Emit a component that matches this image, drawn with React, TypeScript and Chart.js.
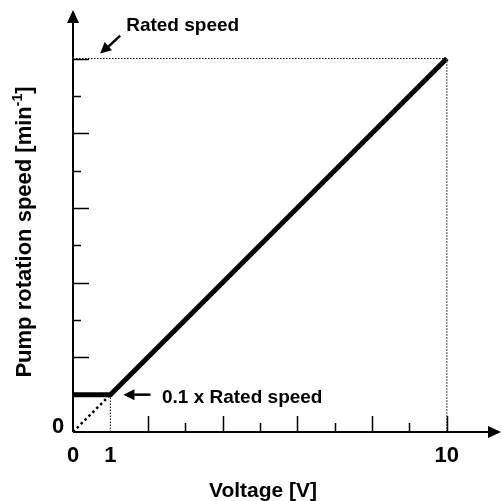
import React, { useEffect, useRef } from "react";
import { Chart, registerables } from "chart.js";

Chart.register(...registerables);

// Characteristic: voltage [V] vs relative pump speed (1.0 = rated speed)
const voltage = [0, 1, 10];
const speedRatio = [0.1, 0.1, 1.0];
// Dotted guide lines
const extrapolX = [0, 1];
const extrapolY = [0, 0.1];
const minGuideX = [1, 1];
const minGuideY = [0, 0.1];
const ratedGuideX = [0, 10];
const ratedGuideY = [1, 1];
const maxGuideX = [10, 10];
const maxGuideY = [0, 1];
// Axis ticks
const xTickValues = [2, 3, 4, 5, 6, 7, 8, 9, 10];
const yTickValues = [0.1, 0.2, 0.3, 0.4, 0.5, 0.6, 0.7, 0.8, 0.9, 1.0];
const xTickLabels = ["0", "1", "10"];
const xTickLabelValues = [0, 1, 10];
const yZeroLabel = "0";
const xTitle = "Voltage [V]";
const yTitleMain = "Pump rotation speed [min";
const yTitleSup = "-1";
const yTitleEnd = "]";
const ratedLabel = "Rated speed";
const minLabel = "0.1 x Rated speed";

const FONT = '"Liberation Sans", Arial, Helvetica, sans-serif';

function pts(xs: number[], ys: number[]) {
  return xs.map((x, i) => ({ x, y: ys[i] }));
}

function arrowHead(ctx: CanvasRenderingContext2D, tx: number, ty: number, fx: number, fy: number, len: number, half: number) {
  const ang = Math.atan2(ty - fy, tx - fx);
  const bx = tx - Math.cos(ang) * len;
  const by = ty - Math.sin(ang) * len;
  const nx = -Math.sin(ang) * half;
  const ny = Math.cos(ang) * half;
  ctx.beginPath();
  ctx.moveTo(tx, ty);
  ctx.lineTo(bx + nx, by + ny);
  ctx.lineTo(bx - nx, by - ny);
  ctx.closePath();
  ctx.fill();
}

const decorPlugin = {
  id: "decor",
  afterDatasetsDraw(chart: any) {
    const ctx: CanvasRenderingContext2D = chart.ctx;
    const xs = chart.scales.x;
    const ys = chart.scales.y;
    const x0 = xs.getPixelForValue(0);
    const y0 = ys.getPixelForValue(0);
    const W = chart.width;
    ctx.save();
    ctx.fillStyle = "#000";
    ctx.strokeStyle = "#000";
    // axes
    ctx.lineWidth = 2;
    ctx.beginPath();
    ctx.moveTo(x0, y0);
    ctx.lineTo(W - 12, y0);
    ctx.moveTo(x0, y0);
    ctx.lineTo(x0, 22);
    ctx.stroke();
    arrowHead(ctx, W - 1, y0, x0, y0, 13, 6);
    arrowHead(ctx, x0, 10, x0, y0, 13, 6);
    // ticks
    ctx.lineWidth = 1.5;
    ctx.beginPath();
    xTickValues.forEach((v) => {
      const px = Math.round(xs.getPixelForValue(v)) + 0.5;
      const len = v % 2 === 0 ? 16 : 9;
      ctx.moveTo(px, y0);
      ctx.lineTo(px, y0 - len);
    });
    yTickValues.forEach((v, i) => {
      const py = Math.round(ys.getPixelForValue(v)) + 0.5;
      const len = i % 2 === 1 ? 16 : 8;
      ctx.moveTo(x0, py);
      ctx.lineTo(x0 + len, py);
    });
    ctx.stroke();
    // tick labels
    ctx.font = "bold 22px " + FONT;
    ctx.textAlign = "center";
    ctx.textBaseline = "alphabetic";
    xTickLabels.forEach((t, i) => {
      ctx.fillText(t, xs.getPixelForValue(xTickLabelValues[i]), y0 + 30);
    });
    ctx.fillText(yZeroLabel, x0 - 15, y0 + 1);
    // x title
    ctx.font = "bold 21px " + FONT;
    ctx.fillText(xTitle, 263, 497);
    // y title with superscript
    ctx.save();
    ctx.translate(31, 232);
    ctx.rotate(-Math.PI / 2);
    ctx.textAlign = "left";
    const fMain = "bold 22px " + FONT;
    const fSup = "bold 14px " + FONT;
    ctx.font = fMain;
    const w1 = ctx.measureText(yTitleMain).width;
    const w3 = ctx.measureText(yTitleEnd).width;
    ctx.font = fSup;
    const w2 = ctx.measureText(yTitleSup).width;
    let cx = -(w1 + w2 + w3) / 2;
    ctx.font = fMain;
    ctx.fillText(yTitleMain, cx, 0);
    cx += w1;
    ctx.font = fSup;
    ctx.fillText(yTitleSup, cx, -9);
    cx += w2;
    ctx.font = fMain;
    ctx.fillText(yTitleEnd, cx, 0);
    ctx.restore();
    // annotations
    ctx.font = "bold 19px " + FONT;
    ctx.textAlign = "left";
    const rx = xs.getPixelForValue(0.7);
    const ry = ys.getPixelForValue(1.0);
    ctx.fillText(ratedLabel, rx + 27, ry - 28);
    ctx.lineWidth = 2.5;
    ctx.beginPath();
    ctx.moveTo(rx + 21, ry - 23);
    ctx.lineTo(rx + 6, ry - 9);
    ctx.stroke();
    arrowHead(ctx, rx + 1, ry - 5, rx + 21, ry - 23, 11, 5.5);
    const mx = xs.getPixelForValue(1.35);
    const my = ys.getPixelForValue(0.1);
    ctx.beginPath();
    ctx.moveTo(mx + 27, my);
    ctx.lineTo(mx + 8, my);
    ctx.stroke();
    arrowHead(ctx, mx, my, mx + 27, my, 11, 5.5);
    ctx.fillText(minLabel, mx + 38.5, my + 8);
    ctx.restore();
  },
};

export default function App() {
  const ref = useRef<HTMLCanvasElement | null>(null);
  useEffect(() => {
    document.body.style.margin = "0";
    const chart = new Chart(ref.current as HTMLCanvasElement, {
      type: "scatter",
      data: {
        datasets: [
          {
            data: pts(ratedGuideX, ratedGuideY),
            showLine: true,
            borderColor: "#000",
            borderWidth: 1,
            borderDash: [1.5, 1.5],
            pointRadius: 0,
          },
          {
            data: pts(maxGuideX, maxGuideY),
            showLine: true,
            borderColor: "#666",
            borderWidth: 1.2,
            borderDash: [2, 1],
            pointRadius: 0,
          },
          {
            data: pts(minGuideX, minGuideY),
            showLine: true,
            borderColor: "#000",
            borderWidth: 1,
            borderDash: [1.5, 1.5],
            pointRadius: 0,
          },
          {
            data: pts(extrapolX, extrapolY),
            showLine: true,
            borderColor: "#000",
            borderWidth: 2.5,
            borderDash: [2.5, 3],
            pointRadius: 0,
          },
          {
            data: pts(voltage, speedRatio),
            showLine: true,
            borderColor: "#000",
            borderWidth: 5,
            pointRadius: 0,
            borderJoinStyle: "miter",
          },
        ],
      },
      options: {
        animation: false,
        responsive: false,
        events: [],
        layout: { padding: { left: 73, right: 1, top: 10, bottom: 69 } },
        plugins: { legend: { display: false }, tooltip: { enabled: false } },
        scales: {
          x: { type: "linear", display: false, min: 0, max: 11.45 },
          y: { type: "linear", display: false, min: 0, max: 1.13 },
        },
      },
      plugins: [decorPlugin],
    });
    return () => chart.destroy();
  }, []);
  return (
    <div style={{ position: "absolute", left: 0, top: 0, width: 502, height: 501 }}>
      <canvas ref={ref} width={502} height={501} style={{ width: 502, height: 501, display: "block" }} />
    </div>
  );
}
